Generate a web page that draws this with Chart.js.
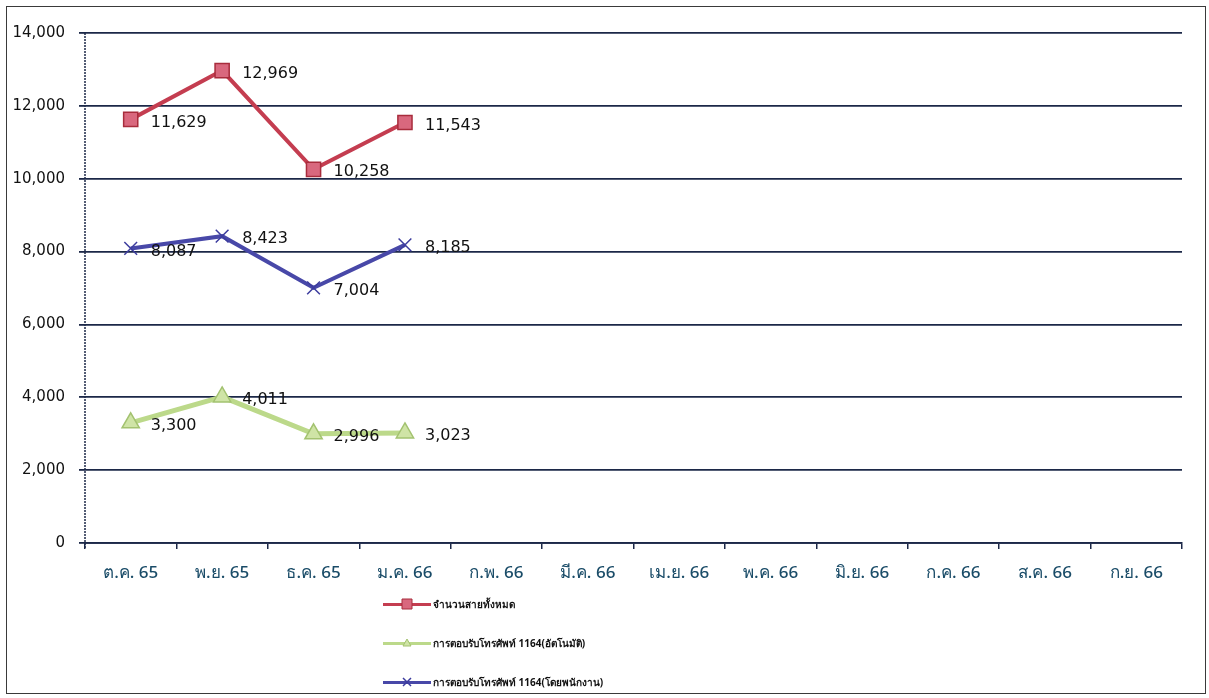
<!DOCTYPE html>
<html><head><meta charset="utf-8">
<script src="https://cdn.jsdelivr.net/npm/chart.js@4/dist/chart.umd.min.js"></script>
<style>
html,body{margin:0;padding:0;background:#fff;width:1209px;height:698px;overflow:hidden;}
#wrap{position:relative;width:1209px;height:698px;}
#frame{position:absolute;left:6px;top:6px;width:1200px;height:688px;border:1.5px solid #3a3a3a;box-sizing:border-box;pointer-events:none;}
#legend{position:absolute;left:383px;top:594px;font-family:"Noto Sans","DejaVu Sans",sans-serif;font-size:10px;font-weight:bold;color:#111;}
.item{height:39px;display:flex;align-items:flex-start;}
.item .sw{position:relative;width:48px;height:20px;margin-right:2px;}
.item .ln{position:absolute;left:0;right:0;top:9px;height:3px;}
.item span.t{line-height:20px;}
</style></head>
<body><div id="wrap"><canvas id="c" width="1209" height="698"></canvas><div id="frame"></div><div id="legend"></div></div>
<script>
const categories = ["ต.ค. 65","พ.ย. 65","ธ.ค. 65","ม.ค. 66","ก.พ. 66","มี.ค. 66","เม.ย. 66","พ.ค. 66","มิ.ย. 66","ก.ค. 66","ส.ค. 66","ก.ย. 66"];
const seriesNames = ["จำนวนสายทั้งหมด","การตอบรับโทรศัพท์ 1164(อัตโนมัติ)","การตอบรับโทรศัพท์ 1164(โดยพนักงาน)"];
const totalCalls = [11629,12969,10258,11543,null,null,null,null,null,null,null,null];
const autoAnswer = [3300,4011,2996,3023,null,null,null,null,null,null,null,null];
const staffAnswer = [8087,8423,7004,8185,null,null,null,null,null,null,null,null];
const yTicks = [0,2000,4000,6000,8000,10000,12000,14000];

const colors = [
  {line:'#c43d50', fill:'#d9687e', edge:'#a82c3c', style:'rect', r:10, w:4},
  {line:'#bcd98a', fill:'#cfe4a6', edge:'#a3c270', style:'triangle', r:10, w:5},
  {line:'#4848a8', fill:'#4848a8', edge:'#3c3c9e', style:'crossRot', r:9, w:4}
];
const dataArr = [totalCalls, autoAnswer, staffAnswer];

const labelPlugin = {
  id:'valLabels',
  afterDatasetsDraw(chart){
    const ctx = chart.ctx;
    ctx.save();
    ctx.font = '16px "DejaVu Sans", Verdana, sans-serif';
    ctx.fillStyle = '#111';
    ctx.textAlign = 'left';
    ctx.textBaseline = 'middle';
    chart.data.datasets.forEach((ds,i)=>{
      const meta = chart.getDatasetMeta(i);
      meta.data.forEach((pt,j)=>{
        const v = ds.data[j];
        if(v==null) return;
        ctx.fillText(v.toLocaleString('en-US'), pt.x+20, pt.y+3);
      });
    });
    ctx.restore();
  },
  afterDraw(chart){
    const ctx = chart.ctx, a = chart.chartArea;
    ctx.save();
    ctx.strokeStyle = '#1c2848'; ctx.lineWidth = 1.5;
    ctx.setLineDash([2,1]);
    ctx.beginPath(); ctx.moveTo(a.left, a.top); ctx.lineTo(a.left, a.bottom+6); ctx.stroke();
    ctx.restore();
  }
};

const gridColor = '#1c2848';
new Chart(document.getElementById('c'), {
  type:'line',
  data:{
    labels:categories,
    datasets: dataArr.map((d,i)=>({
      label:seriesNames[i], data:d,
      borderColor:colors[i].line, borderWidth:colors[i].w,
      pointStyle:colors[i].style, pointRadius:colors[i].r, pointHoverRadius:colors[i].r,
      pointBackgroundColor:colors[i].fill, pointBorderColor:colors[i].edge, pointBorderWidth:1.5,
      tension:0, spanGaps:false, fill:false
    }))
  },
  options:{
    responsive:false, animation:false,
    layout:{padding:{left:0,top:33,right:27,bottom:105}},
    plugins:{legend:{display:false}, tooltip:{enabled:false}},
    scales:{
      x:{
        offset:true,
        grid:{display:true, drawOnChartArea:false, drawTicks:true, tickLength:6, color:gridColor, lineWidth:1.5, offset:true},
        border:{display:true, color:gridColor, width:1.8},
        ticks:{color:'#1a4c68', font:{family:'"Noto Sans","DejaVu Sans",sans-serif', size:17, weight:'500'}, padding:14, maxRotation:0, autoSkip:false},
        afterFit(s){ s.height = 50; }
      },
      y:{
        min:0, max:14000,
        afterBuildTicks(s){ s.ticks = yTicks.map(v=>({value:v})); },
        grid:{color:gridColor, lineWidth:1.8, drawTicks:true, tickLength:6},
        border:{display:false},
        ticks:{color:'#111', font:{family:'"DejaVu Sans",sans-serif', size:15}, padding:14,
          callback:v=>v.toLocaleString('en-US')},
        afterFit(s){ s.width = 85; }
      }
    }
  },
  plugins:[labelPlugin]
});

const lg = document.getElementById('legend');
seriesNames.forEach((n,i)=>{
  const it = document.createElement('div'); it.className='item';
  const sw = document.createElement('div'); sw.className='sw';
  const ln = document.createElement('div'); ln.className='ln'; ln.style.background=colors[i].line;
  sw.appendChild(ln);
  const mk = document.createElement('canvas'); mk.width=14; mk.height=14;
  mk.style.position='absolute'; mk.style.left='17px'; mk.style.top='3px';
  const c2 = mk.getContext('2d');
  c2.fillStyle = colors[i].fill; c2.strokeStyle = colors[i].edge;
  c2.beginPath();
  if(colors[i].style==='rect'){ c2.rect(2,2,10,10); c2.fill(); c2.stroke(); }
  else if(colors[i].style==='triangle'){ c2.moveTo(7,3);c2.lineTo(11,10);c2.lineTo(3,10);c2.closePath();c2.fill();c2.stroke(); }
  else { c2.lineWidth=1.5; c2.moveTo(3,3);c2.lineTo(11,11);c2.moveTo(11,3);c2.lineTo(3,11);c2.stroke(); }
  sw.appendChild(mk);
  const t = document.createElement('span'); t.className='t'; t.textContent=n;
  it.appendChild(sw); it.appendChild(t); lg.appendChild(it);
});
</script></body></html>
